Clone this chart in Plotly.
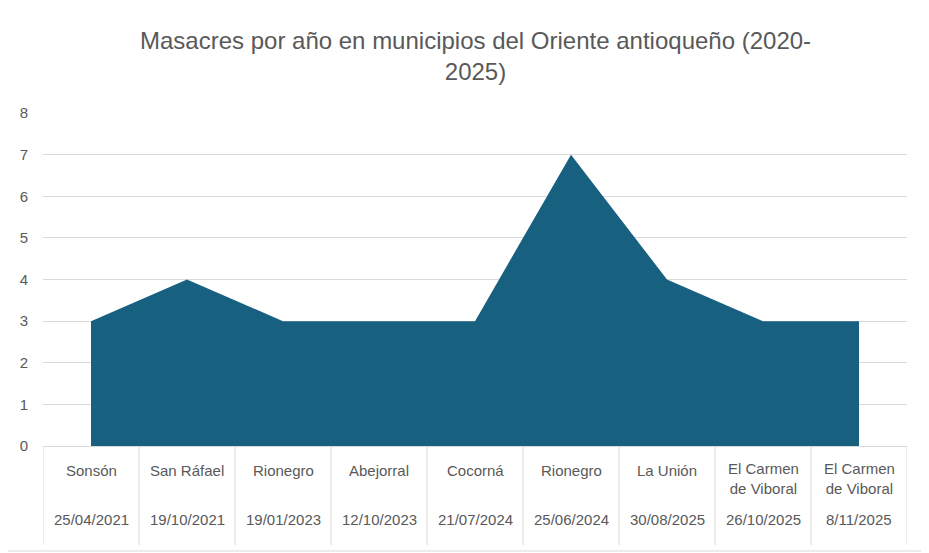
import plotly.graph_objects as go

municipios = ["Sonsón", "San Ráfael", "Rionegro", "Abejorral", "Cocorná", "Rionegro",
              "La Unión", "El Carmen<br>de Viboral", "El Carmen<br>de Viboral"]
fechas = ["25/04/2021", "19/10/2021", "19/01/2023", "12/10/2023", "21/07/2024",
          "25/06/2024", "30/08/2025", "26/10/2025", "8/11/2025"]
valores = [3, 4, 3, 3, 3, 7, 4, 3, 3]

n = len(valores)
xs = list(range(n))
fig = go.Figure(go.Scatter(x=xs, y=valores, fill="tozeroy", mode="lines",
                           line=dict(color="#17607F", width=0), fillcolor="#17607F",
                           hoverinfo="skip"))

ph = 446 - 113
font = dict(size=15, color="#595959", family="Liberation Sans")
annotations = []
shapes = []
for i in range(n):
    multi = "<br>" in municipios[i]
    annotations.append(dict(x=i, y=(-12 if multi else -24)/ph, xref="x", yref="paper",
                            text=municipios[i], showarrow=False,
                            yanchor="top" if multi else "middle", font=font))
    annotations.append(dict(x=i, y=-84/ph, xref="x", yref="paper", text=fechas[i],
                            showarrow=False, font=font))
annotations.append(dict(x=0.5, y=1 + 57/ph, xref="paper", yref="paper", showarrow=False,
                        text="Masacres por año en municipios del Oriente antioqueño (2020-<br>2025)",
                        yanchor="middle", font=dict(size=24, color="#595959", family="Liberation Sans")))
for b in range(n + 1):
    shapes.append(dict(type="line", xref="x", yref="paper", x0=b - 0.5, x1=b - 0.5,
                       y0=0, y1=-99/ph, line=dict(color="#d9d9d9", width=1)))
shapes.append(dict(type="rect", xref="paper", yref="paper", x0=-39/867, x1=1 + 20/867,
                   y0=-105/ph, y1=1 + 111/ph, line=dict(color="#d9d9d9", width=1)))

fig.update_layout(
    width=921, height=545, margin=dict(l=32, r=22, t=105, b=107),
    paper_bgcolor="white", plot_bgcolor="white", showlegend=False,
    xaxis=dict(range=[-0.5, n - 0.5], showticklabels=False, showgrid=False, zeroline=False,
               showline=True, linecolor="#d9d9d9", fixedrange=True),
    yaxis=dict(range=[0, 8], dtick=1, gridcolor="#d9d9d9", zeroline=False,
               tickfont=font, ticklabelstandoff=14),
    annotations=annotations, shapes=shapes,
)
fig.write_html("out.html")
